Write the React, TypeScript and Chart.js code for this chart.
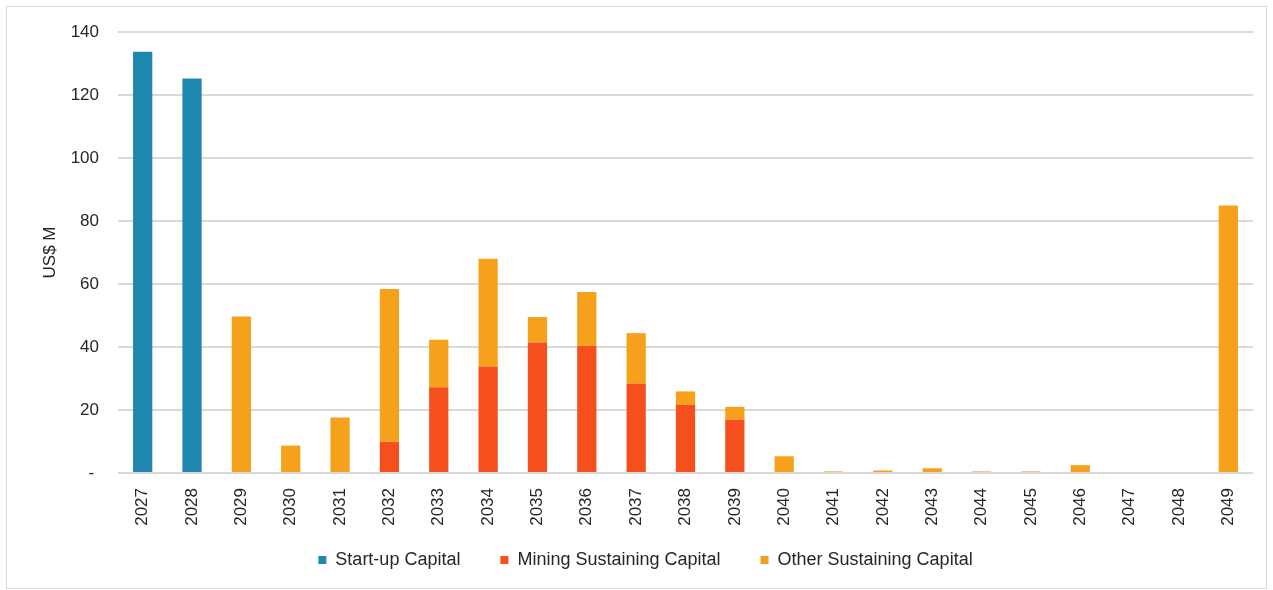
import React, { useEffect, useRef } from "react";
import { Chart, registerables } from "chart.js";

Chart.register(...registerables);

const years = ["2027","2028","2029","2030","2031","2032","2033","2034","2035","2036","2037","2038","2039","2040","2041","2042","2043","2044","2045","2046","2047","2048","2049"];
const startupCapital = [133.7,125.2,0,0,0,0,0,0,0,0,0,0,0,0,0,0,0,0,0,0,0,0,0];
const miningSustaining = [0,0,0,0,0,9.9,27.2,33.8,41.4,40.4,28.4,21.6,17.0,0,0,0,0,0,0,0,0,0,0];
const otherSustaining = [0,0,49.7,8.7,17.6,48.5,15.1,34.2,8.1,17.1,16.0,4.3,4.0,5.3,0.5,0.8,1.5,0.5,0.5,2.5,0,0,84.9];
const seriesNames = ["Start-up Capital", "Mining Sustaining Capital", "Other Sustaining Capital"];
const seriesColors = ["#1F86AE", "#F44F1D", "#F6A11B"];
const yTicks = [0, 20, 40, 60, 80, 100, 120, 140];

const FONT = "'Liberation Sans', Arial, sans-serif";

// Shift the legend up after layout so its wide item spacing doesn't push it too low.
const legendShift = {
  id: "legendShift",
  afterLayout(chart: any) {
    const lg = chart.legend;
    if (lg) {
      lg.top -= 22;
      lg.bottom -= 22;
    }
  },
};

const zeroPad = (s: any) => {
  s.paddingTop = 0;
  s.paddingBottom = 0;
  s.paddingLeft = 0;
  s.paddingRight = 0;
};

export default function App() {
  const ref = useRef<HTMLCanvasElement | null>(null);
  useEffect(() => {
    if (!ref.current) return;
    const chart = new Chart(ref.current, {
      type: "bar",
      data: {
        labels: years,
        datasets: [startupCapital, miningSustaining, otherSustaining].map((d, i) => ({
          label: seriesNames[i],
          data: d,
          backgroundColor: seriesColors[i],
          borderWidth: 0,
          barPercentage: 0.39,
          categoryPercentage: 1,
        })),
      },
      options: {
        animation: false,
        responsive: false,
        layout: { padding: { left: 31, right: 13, top: 25, bottom: -13 } },
        scales: {
          x: {
            stacked: true,
            grid: { display: false },
            border: { display: false },
            ticks: {
              autoSkip: false,
              minRotation: 90,
              maxRotation: 90,
              padding: 7,
              color: "#262626",
              font: { family: FONT, size: 17 },
            },
            afterFit: (s: any) => { s.height = 60; zeroPad(s); },
          },
          y: {
            stacked: true,
            min: 0,
            max: 140,
            grid: { color: "#d9d9d9", lineWidth: 2, drawTicks: false },
            border: { display: false },
            afterBuildTicks: (s: any) => { s.ticks = yTicks.map((v) => ({ value: v })); },
            ticks: {
              padding: 19,
              color: "#262626",
              font: { family: FONT, size: 17 },
              callback: (v: any) => (Number(v) === 0 ? "- " : String(v)),
            },
            title: {
              display: true,
              text: "US$ M",
              color: "#262626",
              font: { family: FONT, size: 17 },
              padding: { top: 2, bottom: 0 },
            },
            afterFit: (s: any) => { s.width = 80; zeroPad(s); },
          },
        },
        plugins: {
          legend: {
            position: "bottom",
            labels: {
              boxWidth: 8,
              boxHeight: 8,
              padding: 40,
              color: "#262626",
              font: { family: FONT, size: 18 },
            },
          },
          tooltip: { enabled: false },
        },
      },
      plugins: [legendShift],
    });
    return () => chart.destroy();
  }, []);
  return (
    <div style={{ position: "absolute", left: 6, top: 6, width: 1261, height: 583, boxSizing: "border-box", border: "1px solid #d9d9d9", background: "#fff" }}>
      <canvas ref={ref} width={1259} height={581} style={{ display: "block", width: 1259, height: 581 }} />
    </div>
  );
}
